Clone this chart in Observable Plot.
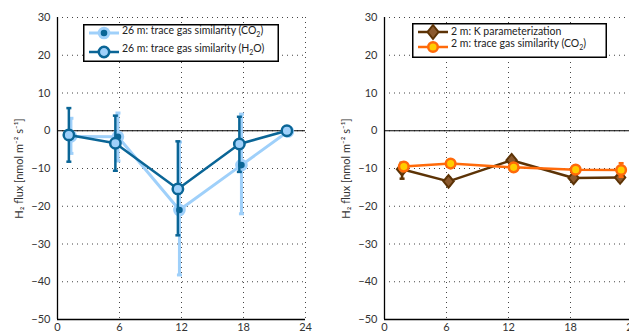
<!DOCTYPE html>
<html><head><meta charset="utf-8">
<script src="https://cdn.jsdelivr.net/npm/d3@7"></script>
<script src="https://cdn.jsdelivr.net/npm/@observablehq/plot@0.6"></script>
<style>
html,body{margin:0;padding:0;background:#fff;overflow:hidden;width:629px;height:334px;}
#wrap{position:relative;width:629px;height:334px;overflow:hidden;font-family:Lato,sans-serif;}
.panel{position:absolute;top:0;}
.legend{position:absolute;overflow:visible;}
</style></head>
<body><div id="wrap"></div>
<script>
// ---- Data ----
const xTicks = [0, 6, 12, 18, 24];
const yTicks = [-50, -40, -30, -20, -10, 0, 10, 20, 30];

// Left panel: 26 m
const h2oHour = [1.1, 5.6, 11.65, 17.6, 22.2];
const h2oFlux = [-1.1, -3.3, -15.4, -3.5, 0.0];
const h2oHi   = [6.0, 4.0, -2.8, 3.7, 0.3];
const h2oLo   = [-8.2, -10.6, -27.7, -10.9, -0.3];

const co2Hour26 = [1.3, 5.85, 11.8, 17.8, 22.3];
const co2Flux26 = [-1.5, -1.6, -21.0, -9.1, -0.2];
const co2Hi26   = [3.3, 4.7, -3.0, 4.4, 0.3];
const co2Lo26   = [-6.0, -8.0, -38.2, -22.0, -0.6];

// Right panel: 2 m
const kHour = [1.7, 6.2, 12.3, 18.3, 22.8];
const kFlux = [-10.2, -13.4, -7.8, -12.5, -12.4];
const kHi   = [-8.5, -12.4, -7.0, -11.6, -11.5];
const kLo   = [-12.7, -14.4, -8.6, -13.4, -13.3];

const co2Hour2 = [1.87, 6.4, 12.5, 18.5, 22.9];
const co2Flux2 = [-9.5, -8.7, -9.7, -10.3, -10.4];
const co2Hi2   = [-8.6, -7.9, -8.9, -9.4, -8.6];
const co2Lo2   = [-10.4, -9.5, -10.5, -11.2, -12.2];

const legendLeft = ["26 m: trace gas similarity (CO|2|)", "26 m: trace gas similarity (H|2|O)"];
const legendRight = ["2 m: K parameterization", "2 m: trace gas similarity (CO|2|)"];

const yLabel = "H₂ flux [nmol m⁻² s⁻¹]";

const rows = (h, v, hi, lo) => h.map((x, i) => ({x, v: v[i], hi: hi[i], lo: lo[i]}));

const cap = {draw(ctx, size) { const w = Math.sqrt(size / Math.PI); ctx.moveTo(-w, 0); ctx.lineTo(w, 0); }};
const diamond = {draw(ctx, size) { const r = Math.sqrt(size / Math.PI); ctx.moveTo(0, -r*1.2); ctx.lineTo(r, 0); ctx.lineTo(0, r*1.2); ctx.lineTo(-r, 0); ctx.closePath(); }};

function seriesMarks(d, o) {
  return [
    Plot.line(d, {x: "x", y: "v", stroke: o.line, strokeWidth: o.lw}),
    Plot.ruleX(d, {x: "x", y1: "lo", y2: "hi", stroke: o.bar, strokeWidth: o.bw}),
    Plot.dot(d, {x: "x", y: "hi", symbol: cap, r: 2.5, stroke: o.bar, strokeWidth: o.bw}),
    Plot.dot(d, {x: "x", y: "lo", symbol: cap, r: 2.5, stroke: o.bar, strokeWidth: o.bw}),
    Plot.dot(d, {x: "x", y: "v", symbol: o.symbol || "circle", r: o.r, fill: o.fill, stroke: o.stroke, strokeWidth: o.sw})
  ];
}

function panel(mL, width, series) {
  return Plot.plot({
    width, height: 334,
    marginLeft: mL, marginRight: width - mL - 248, marginTop: 17, marginBottom: 15,
    style: {fontFamily: "Lato, sans-serif", fontSize: "11px", color: "#333", background: "transparent"},
    x: {domain: [0, 24], ticks: xTicks},
    y: {domain: [-50, 30], ticks: yTicks},
    marks: [
      Plot.ruleX(xTicks.slice(1), {stroke: "#444", strokeDasharray: "1,4", strokeWidth: 1}),
      Plot.ruleY(yTicks.slice(1), {stroke: "#444", strokeDasharray: "1,4", strokeWidth: 1}),
      Plot.ruleY([0], {stroke: "#000", strokeWidth: 1.2}),
      Plot.axisX({ticks: xTicks, tickSize: 0, tickPadding: 4, label: null, fill: "#333"}),
      Plot.axisY({ticks: yTicks, tickSize: 0, tickPadding: 7, tickFormat: d => d < 0 ? "\u2212" + (-d) : String(d),
        label: yLabel, labelAnchor: "center", labelArrow: "none", labelOffset: 42, fill: "#333"}),
      ...series,
      Plot.ruleX([0], {stroke: "#000", strokeWidth: 1.3}),
      Plot.ruleY([-50], {stroke: "#000", strokeWidth: 1.3})
    ]
  });
}

const lightBlue = "#9fd0fa", darkBlue = "#0a6596";
const left = panel(57, 312, [
  ...seriesMarks(rows(co2Hour26, co2Flux26, co2Hi26, co2Lo26), {line: lightBlue, lw: 3, bar: lightBlue, bw: 3, fill: darkBlue, stroke: lightBlue, sw: 3, r: 4.8}),
  ...seriesMarks(rows(h2oHour, h2oFlux, h2oHi, h2oLo), {line: darkBlue, lw: 2.5, bar: darkBlue, bw: 2.5, fill: lightBlue, stroke: darkBlue, sw: 2.5, r: 5.2})
]);
const brownLine = "#5c3306", brownFill = "#8c5a2e", orange = "#ff6a0a", yellow = "#ffcc00";
const right = panel(64, 317, [
  ...seriesMarks(rows(kHour, kFlux, kHi, kLo), {line: brownLine, lw: 2.5, bar: brownLine, bw: 2.5, fill: brownFill, stroke: brownLine, sw: 2, r: 5.2, symbol: diamond}),
  ...seriesMarks(rows(co2Hour2, co2Flux2, co2Hi2, co2Lo2), {line: orange, lw: 2.5, bar: orange, bw: 2.5, fill: yellow, stroke: orange, sw: 2.5, r: 4.8})
]);

const wrap = document.getElementById("wrap");
left.classList.add("panel"); left.style.left = "0px";
right.classList.add("panel"); right.style.left = "320px";
wrap.appendChild(left); wrap.appendChild(right);

// Legends
function legend(box, labels, styles) {
  const svg = d3.select(wrap).append("svg").attr("class", "legend")
    .style("left", box.x + "px").style("top", box.y + "px")
    .attr("width", box.w).attr("height", box.h);
  svg.append("rect").attr("x", 0.75).attr("y", 0.75).attr("width", box.w - 1.5).attr("height", box.h - 1.5)
    .attr("fill", "#fff").attr("stroke", "#000").attr("stroke-width", 1.5);
  labels.forEach((lab, i) => {
    const s = styles[i];
    const cy = box.rows[i];
    svg.append("line").attr("x1", 6).attr("x2", 36).attr("y1", cy).attr("y2", cy).attr("stroke", s.line).attr("stroke-width", s.lw);
    const path = s.symbol === "diamond" ? "M0,-7L5.5,0L0,7L-5.5,0Z" : d3.symbol(d3.symbolCircle, Math.PI * s.r * s.r)();
    svg.append("path").attr("d", path).attr("transform", `translate(21,${cy})`)
      .attr("fill", s.fill).attr("stroke", s.stroke).attr("stroke-width", s.sw);
    const t = svg.append("text").attr("x", 39).attr("y", box.text[i]).attr("font-size", "10.5px").attr("fill", "#222")
      .attr("font-family", "Lato, sans-serif");
    lab.split("|").forEach((part, j) => {
      if (j % 2 === 1) t.append("tspan").attr("font-size", "7px").attr("dy", 2.5).text(part);
      else if (j > 0) t.append("tspan").attr("dy", -2.5).text(part);
      else t.append("tspan").text(part);
    });
  });
}
legend({x: 83, y: 24, w: 196, h: 38, rows: [9, 28], text: [10, 28]}, legendLeft, [
  {line: lightBlue, lw: 3, fill: darkBlue, stroke: lightBlue, sw: 3, r: 4.8},
  {line: darkBlue, lw: 2.5, fill: lightBlue, stroke: darkBlue, sw: 2.5, r: 5.2}
]);
legend({x: 412, y: 23, w: 195, h: 35, rows: [9, 24], text: [12, 24]}, legendRight, [
  {line: brownLine, lw: 2.5, fill: brownFill, stroke: brownLine, sw: 2, symbol: "diamond"},
  {line: orange, lw: 2.5, fill: yellow, stroke: orange, sw: 2.5, r: 4.8}
]);
</script></body></html>
